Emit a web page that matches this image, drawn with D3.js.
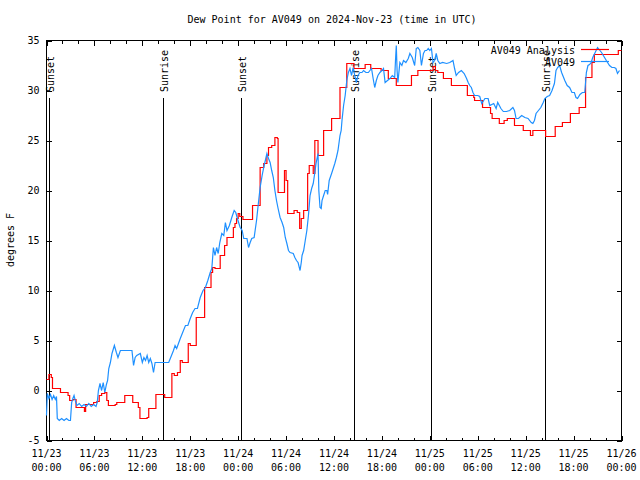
<!DOCTYPE html>
<html><head><meta charset="utf-8">
<script src="https://cdn.jsdelivr.net/npm/d3@7"></script>
<style>
html,body{margin:0;padding:0;background:#fff;}
svg{display:block;}
text{font-family:"DejaVu Sans Mono","Liberation Mono",monospace;font-size:10px;fill:#000;}
</style></head><body>
<svg id="chart" width="640" height="480"></svg>
<script>
const titleText = "Dew Point for AV049 on 2024-Nov-23 (time in UTC)";
const yLabelText = "degrees F";
const seriesNames = ["AV049 Analysis", "AV049"];
const seriesColors = ["#ff0000", "#1e90ff"];
const startTime = Date.UTC(2024, 10, 23, 0, 0);
const totalHours = 72;
const xTickHours = [0, 6, 12, 18, 24, 30, 36, 42, 48, 54, 60, 66, 72];
const xTickDates = ["11/23","11/23","11/23","11/23","11/24","11/24","11/24","11/24","11/25","11/25","11/25","11/25","11/26"];
const xTickTimes = ["00:00","06:00","12:00","18:00","00:00","06:00","12:00","18:00","00:00","06:00","12:00","18:00","00:00"];
const xMinorStep = 2;
const yTickValues = [-5, 0, 5, 10, 15, 20, 25, 30, 35];
const sunEventHours = [0.28, 14.53, 24.3, 38.55, 48.1, 62.4];
const sunEventLabels = ["Sunset","Sunrise","Sunset","Sunrise","Sunset","Sunrise"];

// [hour since start, dew point F]
const analysisSeries = [
[0,1.1],[0.3,1.6],[0.6,1.3],[0.75,0.2],[1.75,-0.2],[2.7,-0.5],[2.9,-1.0],[3.3,-0.9],[3.7,-1.7],[4.75,-2.1],
[4.9,-1.4],[5.9,-1.2],[6.3,-1.1],[6.6,-0.5],[6.9,-0.3],[7.3,-0.2],[7.55,-1.0],[7.75,-1.5],[8.6,-1.4],[8.8,-1.2],
[9.8,-0.5],[10.8,-1.2],[11.5,-1.7],[11.7,-2.8],[12.6,-2.7],[12.8,-1.8],[13.7,-0.4],[14.8,-0.7],[15.7,1.7],[16.0,1.5],
[16.4,1.8],[16.75,3.0],[17.0,2.8],[17.75,4.7],[18.0,4.5],[18.75,7.3],[19.8,10.3],[20.6,11.8],[20.8,12.3],[21.1,12.2],
[21.75,13.5],[22.3,14.5],[22.6,15.3],[23.4,16.3],[23.6,16.7],[23.8,17.2],[24.0,17.7],[24.2,17.4],[24.6,17.1],[25.8,18.5],
[26.75,22.3],[27.2,22.7],[27.6,23.5],[27.8,24.3],[28.2,24.5],[28.6,25.3],[28.9,25.2],[29.0,19.8],[29.8,22.0],[30.0,21.0],
[30.2,17.7],[31.0,18.0],[31.4,17.8],[31.7,16.2],[31.9,17.2],[32.2,18.0],[32.7,21.7],[32.9,22.5],[33.4,21.7],[33.6,25.0],
[34.0,23.5],[34.7,26.0],[35.7,27.2],[36.75,30.3],[37.6,32.7],[38.5,32.2],[39.9,32.6],[40.6,32.2],[41.9,32.0],[42.8,31.2],
[43.8,30.5],[45.7,31.5],[46.5,32.0],[48.4,32.4],[48.7,32.0],[49.0,31.8],[49.7,31.2],[50.7,30.5],[52.7,29.5],[53.5,29.3],
[53.6,29.0],[54.6,28.3],[55.6,27.7],[55.8,27.2],[56.7,26.7],[57.3,27.0],[57.7,27.2],[58.6,26.5],[59.7,26.0],[60.6,25.5],
[60.9,26.0],[62.5,25.4],[63.7,26.4],[64.6,26.8],[65.6,27.7],[66.7,28.3],[67.5,31.3],[68.3,32.8],[68.6,33.6],[71.6,34.0],[72,34.0]
];

const stationSeries = [
[0,-2.5],[0.1,-0.3],[0.3,-0.8],[0.5,-0.4],[0.7,-0.9],[0.9,-0.5],[1.1,-0.9],[1.25,-0.6],[1.35,-2.8],[1.6,-3.0],
[1.9,-2.8],[2.2,-3.0],[2.5,-2.8],[2.8,-3.0],[3.0,-3.0],[3.15,-1.2],[3.3,-0.8],[3.45,-0.5],[3.6,-1.0],[3.8,-1.5],
[4.1,-1.3],[4.4,-1.6],[4.7,-1.4],[5.0,-1.6],[5.3,-1.3],[5.6,-1.6],[5.9,-1.4],[6.2,-1.6],[6.35,-1.2],[6.5,0.0],
[6.7,0.7],[6.9,0.0],[7.1,0.8],[7.3,-0.2],[7.5,0.6],[7.65,1.0],[7.8,2.2],[8.0,2.8],[8.2,3.7],[8.5,4.5],
[8.75,3.8],[8.95,3.3],[9.25,4.0],[9.8,4.0],[10.3,4.0],[10.7,4.0],[10.9,2.5],[11.1,3.3],[11.3,3.5],[11.75,3.7],
[12.0,2.8],[12.2,3.3],[12.4,3.0],[12.6,3.5],[12.8,2.8],[13.0,3.2],[13.2,2.7],[13.4,1.8],[13.6,2.8],[14.0,2.8],
[14.5,2.8],[15.3,2.8],[15.5,3.2],[15.9,4.0],[16.1,4.5],[16.3,4.2],[16.75,5.2],[17.0,5.7],[17.4,6.5],[17.7,6.5],
[18.0,7.2],[18.3,7.8],[18.6,8.2],[18.9,8.2],[19.25,9.3],[19.6,10.0],[19.9,10.3],[20.2,11.0],[20.5,11.8],[20.7,12.2],
[20.9,14.3],[21.1,13.5],[21.3,14.3],[21.5,13.7],[21.7,14.8],[21.95,15.7],[22.2,15.5],[22.4,16.8],[22.6,16.0],[22.9,16.5],
[23.2,17.3],[23.5,18.0],[23.7,17.8],[23.9,17.2],[24.25,16.3],[24.5,16.0],[24.7,15.2],[25.1,15.2],[25.3,14.3],[25.5,14.8],
[25.7,15.2],[26.0,15.3],[26.3,17.0],[26.5,18.5],[26.75,20.3],[27.0,21.5],[27.2,22.3],[27.4,23.0],[27.6,23.7],[27.8,23.2],
[28.0,22.8],[28.2,22.0],[28.4,21.3],[28.6,20.0],[28.8,19.0],[29.0,18.2],[29.25,17.3],[29.5,16.8],[29.7,16.3],[29.9,15.3],
[30.1,14.7],[30.3,14.0],[30.5,13.8],[30.9,13.7],[31.1,13.3],[31.3,13.0],[31.5,12.8],[31.75,12.0],[31.9,12.8],[32.0,13.5],
[32.2,14.0],[32.4,15.0],[32.6,16.0],[32.8,17.5],[33.0,19.5],[33.2,20.2],[33.4,20.7],[33.6,21.8],[33.75,22.7],[34.0,23.7],
[34.1,20.0],[34.25,18.3],[34.4,18.2],[34.5,19.0],[34.7,19.5],[34.9,20.0],[35.1,20.0],[35.2,19.6],[35.4,21.0],[35.7,21.7],
[35.9,22.2],[36.1,22.7],[36.3,23.3],[36.5,24.0],[36.75,25.5],[36.9,26.0],[37.0,27.0],[37.2,28.5],[37.4,29.5],[37.6,31.0],
[37.8,31.8],[38.0,32.2],[38.2,31.5],[38.4,32.3],[38.6,31.5],[38.8,30.8],[39.0,31.5],[39.25,31.8],[39.5,31.8],[39.7,32.0],
[40.0,31.8],[40.3,31.8],[40.5,32.0],[40.7,32.2],[40.9,31.2],[41.1,30.3],[41.3,31.0],[41.5,31.5],[41.75,31.8],[42.0,32.0],
[42.2,32.2],[42.4,30.8],[42.7,31.0],[43.0,31.2],[43.3,31.5],[43.6,31.3],[43.7,33.0],[43.8,34.5],[43.9,32.0],[44.0,30.8],
[44.25,32.8],[44.5,32.5],[44.7,33.0],[45.0,32.8],[45.3,33.2],[45.5,33.7],[45.8,33.3],[46.1,32.5],[46.3,34.2],[46.5,34.3],
[46.75,34.0],[46.95,32.5],[47.2,33.7],[47.4,34.0],[47.6,34.0],[47.8,34.2],[48.0,34.0],[48.2,34.2],[48.4,32.8],[48.6,33.0],
[48.8,33.7],[49.0,33.0],[49.25,32.7],[49.6,32.8],[50.1,32.7],[50.5,32.8],[50.9,33.0],[51.1,32.2],[51.3,31.5],[51.6,31.8],
[51.95,32.0],[52.3,31.7],[52.6,31.2],[52.8,30.8],[53.0,30.5],[53.2,30.3],[53.4,29.8],[53.6,29.5],[54.0,29.5],[54.25,29.4],
[54.5,28.7],[54.9,29.2],[55.3,29.2],[55.5,28.5],[56.0,28.7],[56.3,28.2],[56.5,28.8],[56.9,28.2],[57.2,27.9],[57.6,27.9],
[58.0,28.0],[58.4,28.3],[58.6,28.0],[58.8,27.2],[59.1,27.2],[59.5,27.5],[59.9,27.3],[60.3,27.2],[60.7,26.8],[60.9,26.7],
[61.1,27.0],[61.3,27.7],[61.6,28.0],[61.9,28.3],[62.2,28.8],[62.4,29.2],[62.7,29.4],[63.0,29.5],[63.3,30.0],[63.6,30.7],
[63.8,32.0],[64.0,32.3],[64.25,32.5],[64.5,31.8],[64.9,31.0],[65.2,30.5],[65.5,30.3],[65.8,29.8],[66.1,29.8],[66.3,29.3],
[66.5,29.2],[66.8,29.6],[67.1,29.8],[67.4,29.8],[67.6,31.8],[67.8,32.5],[68.0,32.6],[68.2,32.8],[68.4,33.3],[68.7,33.8],
[69.0,34.3],[69.3,34.0],[69.5,33.8],[69.8,33.4],[70.1,33.0],[70.5,32.5],[70.8,32.3],[71.1,32.3],[71.3,32.2],[71.5,31.7],[71.75,32.0]
];

const svg = d3.select("#chart");
const pLeft = 46.5, pRight = 621.5, pTop = 40.5, pBottom = 440.5;
const hourMs = 3600000;
const toDate = h => new Date(startTime + h * hourMs);

const x = d3.scaleUtc().domain([toDate(0), toDate(totalHours)]).range([pLeft, pRight]);
const y = d3.scaleLinear().domain([-5, 35]).range([pBottom, pTop]);

// frame
svg.append("rect").attr("x", pLeft).attr("y", pTop).attr("width", pRight - pLeft).attr("height", pBottom - pTop)
  .attr("fill", "none").attr("stroke", "#000").attr("stroke-width", 1).attr("shape-rendering", "crispEdges");

const minorHours = d3.range(0, totalHours + 0.001, xMinorStep);
function tickAxis(gen, transform, values, size) {
  const g = svg.append("g").attr("transform", transform)
    .call(gen.tickValues(values).tickSize(size).tickFormat(""));
  g.select(".domain").remove();
  g.selectAll("line").attr("stroke", "#000").attr("shape-rendering", "crispEdges");
  return g;
}
tickAxis(d3.axisBottom(x), `translate(0,${pBottom})`, minorHours.map(toDate), -3);
tickAxis(d3.axisTop(x), `translate(0,${pTop})`, minorHours.map(toDate), -3);
tickAxis(d3.axisBottom(x), `translate(0,${pBottom})`, xTickHours.map(toDate), -5);
tickAxis(d3.axisTop(x), `translate(0,${pTop})`, xTickHours.map(toDate), -5);
tickAxis(d3.axisRight(y), `translate(${pRight},0)`, yTickValues, -5);

// left axis with labels
const ly = svg.append("g").attr("transform", `translate(${pLeft},0)`)
  .call(d3.axisLeft(y).tickValues(yTickValues).tickSize(-5).tickPadding(7).tickFormat(d => d));
ly.select(".domain").remove();
ly.selectAll("line").attr("stroke", "#000").attr("shape-rendering", "crispEdges");

// x labels (two lines)
const xl = svg.append("g");
xTickHours.forEach((h, i) => {
  const t = xl.append("text").attr("text-anchor", "middle");
  t.append("tspan").attr("x", x(toDate(h))).attr("y", 457).text(xTickDates[i]);
  t.append("tspan").attr("x", x(toDate(h))).attr("y", 471).text(xTickTimes[i]);
});

// sunrise / sunset markers
sunEventHours.forEach((h, i) => {
  const xp = Math.round(x(toDate(h))) + 0.5;
  svg.append("line").attr("x1", xp).attr("x2", xp).attr("y1", 98).attr("y2", pBottom)
    .attr("stroke", "#000").attr("shape-rendering", "crispEdges");
  svg.append("text").attr("transform", `translate(${xp + 4},92) rotate(-90)`)
    .attr("text-anchor", "start").text(sunEventLabels[i]);
});

// series
const lineStep = d3.line().x(d => x(toDate(d[0]))).y(d => y(d[1])).curve(d3.curveStepAfter);
const lineLin = d3.line().x(d => x(toDate(d[0]))).y(d => y(d[1]));
svg.append("path").datum(analysisSeries).attr("d", lineStep)
  .attr("fill", "none").attr("stroke", seriesColors[0]).attr("stroke-width", 1.2);
svg.append("path").datum(stationSeries).attr("d", lineLin)
  .attr("fill", "none").attr("stroke", seriesColors[1]).attr("stroke-width", 1.2);

// legend
const legY = [50, 62];
seriesNames.forEach((n, i) => {
  svg.append("text").attr("x", 575).attr("y", legY[i] + 4).attr("text-anchor", "end").text(n);
  svg.append("line").attr("x1", 581).attr("x2", 609).attr("y1", legY[i] - 0.5).attr("y2", legY[i] - 0.5)
    .attr("stroke", seriesColors[i]).attr("stroke-width", 1.2);
});

// title & y label
svg.append("text").attr("x", 332).attr("y", 23).attr("text-anchor", "middle").text(titleText);
svg.append("text").attr("transform", "translate(14,240) rotate(-90)").attr("text-anchor", "middle").text(yLabelText);
</script>
</body></html>
